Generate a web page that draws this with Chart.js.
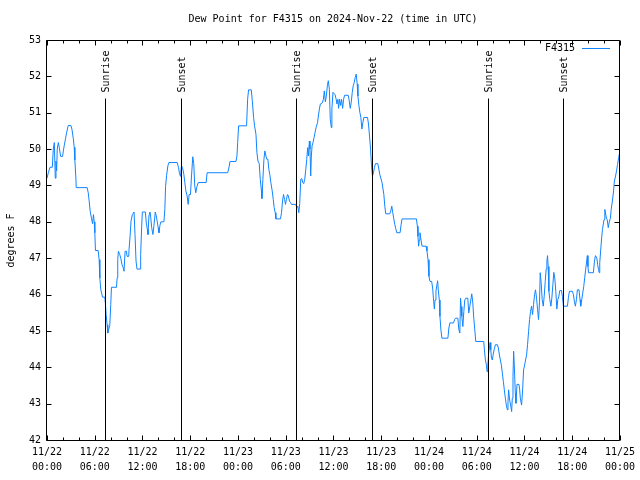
<!DOCTYPE html>
<html>
<head>
<meta charset="utf-8">
<script src="https://cdn.jsdelivr.net/npm/chart.js@4/dist/chart.umd.min.js"></script>
<style>
  html, body { margin: 0; padding: 0; background: #fff; }
  canvas { display: block; }
</style>
</head>
<body>
<canvas id="dewChart" width="640" height="480"></canvas>
<script>
// hours since 2024-11-22 00:00 UTC
const hours = [
  0, 0.17, 0.38, 0.67, 0.79, 0.92, 1.04, 1.13, 1.21, 1.29, 1.42, 1.54, 1.71, 1.96, 2.05, 2.17, 2.34, 2.46, 2.67, 3.0,
  3.13, 3.3, 3.42, 3.5, 3.63, 3.67, 5.05, 5.18, 5.3, 5.42, 5.59, 5.72, 5.84, 5.93, 6.01, 6.09, 6.43, 6.55, 6.64, 6.76,
  6.89, 6.97, 7.26, 7.34, 7.43, 7.55, 7.64, 7.76, 7.89, 8.01, 8.1, 8.73, 8.81, 8.89, 8.97, 9.14, 9.27, 9.43, 9.56, 9.68,
  9.81, 9.98, 10.06, 10.27, 10.31, 10.44, 10.56, 10.73, 10.94, 11.06, 11.19, 11.31, 11.69, 11.77, 11.9, 11.98, 12.36, 12.48, 12.61, 12.69,
  12.81, 12.94, 13.02, 13.15, 13.31, 13.44, 13.61, 13.73, 13.86, 13.98, 14.07, 14.19, 14.31, 14.69, 14.81, 14.9, 15.03, 15.19, 15.32, 16.36,
  16.53, 16.65, 16.78, 16.9, 17.07, 17.2, 17.32, 17.45, 17.61, 17.74, 17.86, 18.03, 18.16, 18.32, 18.44, 18.57, 18.7, 18.82, 19.0, 20.0,
  20.12, 22.7, 22.83, 23.0, 23.75, 23.87, 23.96, 24.08, 25.08, 25.21, 25.33, 25.67, 25.8, 25.96, 26.08, 26.26, 26.38, 26.51, 26.67, 26.8,
  26.93, 27.01, 27.13, 27.26, 27.38, 27.51, 27.63, 27.76, 27.88, 28.0, 28.13, 28.3, 28.43, 28.55, 28.68, 28.76, 29.34, 29.47, 29.6, 29.72,
  29.85, 29.97, 30.09, 30.22, 30.34, 30.47, 30.6, 30.72, 31.26, 31.39, 31.52, 31.64, 31.76, 31.89, 32.01, 32.14, 32.26, 32.39, 32.52, 32.64,
  32.76, 32.85, 32.97, 33.05, 33.14, 33.22, 33.31, 33.43, 33.56, 33.68, 33.81, 34.0, 34.1, 34.23, 34.35, 34.6, 34.73, 34.85, 34.98, 35.1,
  35.23, 35.35, 35.48, 35.6, 35.73, 35.8, 35.94, 36.19, 36.31, 36.44, 36.56, 36.64, 36.77, 36.9, 37.02, 37.15, 37.27, 37.4, 37.86, 37.98,
  38.11, 38.23, 38.36, 38.48, 38.61, 38.73, 38.86, 38.98, 39.07, 39.2, 39.32, 39.44, 39.57, 39.69, 39.82, 40.28, 40.4, 40.53, 40.66, 40.78,
  40.9, 41.03, 41.15, 41.28, 41.57, 41.7, 41.82, 42.1, 42.33, 42.45, 42.57, 43.07, 43.2, 43.33, 43.45, 43.57, 43.7, 43.82, 43.95, 44.37,
  44.5, 44.62, 46.42, 46.54, 46.62, 46.7, 46.78, 46.87, 47.0, 47.13, 47.63, 47.75, 47.88, 48.0, 48.13, 48.34, 48.46, 48.59, 48.68, 48.76,
  48.88, 49.0, 49.09, 49.17, 49.3, 49.38, 49.5, 49.63, 50.38, 50.5, 50.63, 51.09, 51.22, 51.34, 51.63, 51.76, 51.88, 51.97, 52.05, 52.13,
  52.26, 52.38, 52.5, 52.63, 52.88, 53.0, 53.13, 53.26, 53.38, 53.51, 53.63, 53.76, 53.88, 54.88, 54.97, 55.09, 55.22, 55.3, 55.39, 55.5,
  55.68, 55.77, 55.85, 55.97, 56.06, 56.18, 56.35, 56.6, 56.72, 56.85, 56.97, 57.1, 57.22, 57.35, 57.47, 57.6, 57.72, 57.85, 57.93, 58.01,
  58.14, 58.26, 58.39, 58.47, 58.56, 58.64, 58.72, 58.85, 58.93, 59.06, 59.31, 59.4, 59.48, 59.64, 59.77, 59.89, 60.02, 60.14, 60.27, 60.39,
  60.52, 60.64, 60.77, 60.89, 61.02, 61.14, 61.27, 61.39, 61.52, 61.65, 61.77, 61.9, 61.98, 62.1, 62.23, 62.36, 62.48, 62.61, 62.73, 62.82,
  62.9, 62.98, 63.07, 63.19, 63.32, 63.44, 63.57, 63.69, 63.82, 63.94, 64.07, 64.19, 64.32, 64.44, 64.65, 64.77, 64.9, 65.4, 65.52, 65.65,
  66.02, 66.15, 66.27, 66.4, 66.53, 66.65, 66.86, 66.98, 67.07, 67.2, 67.32, 67.45, 67.57, 67.7, 67.82, 67.9, 67.98, 68.05, 68.66, 68.8,
  68.92, 69.1, 69.2, 69.3, 69.4, 69.46, 69.6, 69.7, 69.8, 70.0, 70.1, 70.3, 70.4, 70.53, 70.66, 70.8, 70.9, 71.05, 71.2, 71.3,
  71.45, 71.57, 71.7, 71.84, 71.92
];

// dew point, degrees F
const dewPoint = [
  49.2, 49.35, 49.5, 49.5, 50.0, 50.18, 49.2, 49.67, 49.4, 50.0, 50.18, 50.05, 49.8, 49.8, 49.95, 50.1, 50.3, 50.45, 50.65, 50.65,
  50.55, 50.3, 50.05, 49.7, 49.2, 48.94, 48.94, 48.8, 48.57, 48.3, 48.1, 47.95, 48.2, 48.0, 47.7, 47.21, 47.21, 46.96, 46.46, 46.13,
  46.02, 45.93, 45.93, 45.75, 45.45, 45.17, 44.94, 45.05, 45.15, 45.72, 46.2, 46.2, 46.46, 46.96, 47.19, 47.1, 47.0, 46.82, 46.75, 46.64,
  47.19, 47.19, 47.05, 47.05, 47.24, 47.6, 48.02, 48.2, 48.27, 47.65, 46.92, 46.7, 46.7, 47.1, 47.88, 48.27, 48.27, 47.97, 47.79, 47.65,
  48.16, 48.27, 48.16, 47.85, 47.65, 47.9, 48.27, 48.16, 48.0, 47.83, 47.7, 47.9, 48.0, 48.0, 48.34, 48.97, 49.28, 49.54, 49.63, 49.63,
  49.49, 49.33, 49.25, 49.55, 49.45, 49.3, 49.08, 48.85, 48.71, 48.48, 48.75, 48.75, 49.26, 49.79, 49.6, 48.98, 48.8, 48.95, 49.08, 49.08,
  49.35, 49.35, 49.45, 49.66, 49.66, 49.81, 50.18, 50.64, 50.64, 51.37, 51.63, 51.63, 51.33, 50.87, 50.64, 50.41, 49.9, 49.67, 49.6, 49.17,
  48.89, 48.64, 49.17, 49.72, 49.95, 49.81, 49.72, 49.72, 49.44, 49.3, 49.08, 48.85, 48.62, 48.39, 48.25, 48.08, 48.08, 48.25, 48.57, 48.75,
  48.62, 48.48, 48.62, 48.75, 48.71, 48.57, 48.53, 48.48, 48.48, 48.39, 48.43, 48.25, 48.5, 49.17, 49.19, 49.08, 49.05, 49.17, 49.44, 49.72,
  50.04, 49.81, 50.22, 50.0, 49.26, 49.81, 50.09, 50.18, 50.32, 50.45, 50.59, 50.73, 50.91, 51.1, 51.24, 51.27, 51.37, 51.6, 51.3, 51.46,
  51.74, 51.88, 51.65, 50.82, 50.59, 51.1, 51.56, 51.5, 51.4, 51.24, 51.37, 51.12, 51.37, 51.2, 51.37, 51.12, 51.37, 51.48, 51.48, 51.33,
  51.12, 51.28, 51.56, 51.74, 51.83, 51.97, 52.06, 51.79, 51.46, 51.19, 51.0, 50.87, 50.55, 50.73, 50.87, 50.87, 50.69, 50.36, 50.0, 49.54,
  49.26, 49.35, 49.5, 49.6, 49.6, 49.45, 49.3, 49.08, 48.75, 48.43, 48.22, 48.22, 48.3, 48.43, 48.25, 48.1, 47.93, 47.82, 47.7, 47.7,
  47.93, 48.08, 48.08, 47.88, 47.6, 47.33, 47.5, 47.7, 47.5, 47.33, 47.33, 47.2, 46.96, 46.5, 46.36, 46.36, 46.18, 45.81, 45.6, 45.85,
  46.09, 46.27, 46.38, 46.13, 45.85, 45.4, 45.03, 44.8, 44.8, 45.08, 45.22, 45.22, 45.31, 45.35, 45.35, 45.03, 44.94, 45.9, 45.67, 45.4,
  45.12, 45.53, 45.85, 45.9, 45.9, 45.49, 45.67, 45.85, 46.02, 45.77, 45.35, 45.03, 44.71, 44.71, 44.48, 44.2, 44.06, 43.88, 44.02, 44.39,
  44.68, 44.48, 44.25, 44.2, 44.34, 44.48, 44.62, 44.62, 44.53, 44.34, 44.2, 44.06, 43.84, 43.61, 43.38, 43.15, 42.96, 42.83, 43.06, 43.38,
  43.1, 42.96, 42.78, 43.15, 43.75, 44.44, 44.07, 43.29, 43.01, 43.53, 43.53, 43.38, 43.15, 42.96, 43.38, 43.93, 44.06, 44.2, 44.34, 44.62,
  44.99, 45.31, 45.54, 45.68, 45.45, 45.72, 46.0, 46.13, 45.9, 45.58, 45.31, 45.82, 46.6, 46.32, 45.86, 45.68, 45.95, 46.36, 46.7, 46.92,
  47.07, 46.77, 46.09, 45.86, 45.68, 45.9, 46.27, 46.61, 46.43, 46.09, 45.6, 45.86, 45.95, 46.11, 46.11, 45.95, 45.68, 45.68, 45.91, 46.09,
  46.09, 46.0, 45.82, 45.68, 45.86, 46.13, 46.13, 45.86, 45.68, 45.86, 46.04, 46.22, 46.46, 46.7, 46.92, 47.07, 46.77, 46.6, 46.6, 46.92,
  47.07, 47.0, 46.82, 46.69, 46.6, 46.87, 47.28, 47.56, 47.79, 48.06, 48.34, 48.1, 48.06, 47.84, 48.0, 48.1, 48.34, 48.57, 48.85, 49.12,
  49.26, 49.4, 49.58, 49.77, 49.86
];

const tickDates = ['11/22', '11/22', '11/22', '11/22', '11/23', '11/23', '11/23', '11/23', '11/24', '11/24', '11/24', '11/24', '11/25'];
const tickTimes = ['00:00', '06:00', '12:00', '18:00', '00:00', '06:00', '12:00', '18:00', '00:00', '06:00', '12:00', '18:00', '00:00'];

const sunHours = [7.3, 16.87, 31.34, 40.86, 55.38, 64.9];
const sunNames = ['Sunrise', 'Sunset', 'Sunrise', 'Sunset', 'Sunrise', 'Sunset'];

const stationName = 'F4315';
const titleText = 'Dew Point for F4315 on 2024-Nov-22 (time in UTC)';
const yTitle = 'degrees F';

const lineColor = 'rgb(16, 132, 255)';
const fontFamily = '"DejaVu Sans Mono", "Liberation Mono", monospace';

Chart.defaults.font.family = fontFamily;
Chart.defaults.font.size = 10;
Chart.defaults.color = '#000';

// gnuplot-ish frame, inward ticks, sunrise/sunset markers and labels
const decorations = {
  id: 'decorations',
  afterDraw(chart) {
    const { ctx, chartArea: a, scales: { x, y } } = chart;
    const L = Math.round(a.left) - 0.5;
    const R = Math.round(a.right) - 0.5;
    const T = Math.round(a.top) + 0.5;
    const B = Math.round(a.bottom) + 0.5;

    ctx.save();
    ctx.strokeStyle = '#000';
    ctx.lineWidth = 1;
    ctx.beginPath();
    ctx.rect(L, T, R - L, B - T);

    for (let h = x.min; h <= x.max; h += 2) {
      const px = Math.round(x.getPixelForValue(h)) + 0.5;
      const len = h % 6 === 0 ? 5 : 3;
      ctx.moveTo(px, B); ctx.lineTo(px, B - len);
      ctx.moveTo(px, T); ctx.lineTo(px, T + len);
    }
    for (let v = y.min; v <= y.max; v += 1) {
      const py = Math.round(y.getPixelForValue(v)) + 0.5;
      ctx.moveTo(L, py); ctx.lineTo(L + 5, py);
      ctx.moveTo(R, py); ctx.lineTo(R - 5, py);
    }

    sunHours.forEach(h => {
      const px = Math.round(x.getPixelForValue(h)) + 0.5;
      ctx.moveTo(px, T + 58);
      ctx.lineTo(px, B);
    });
    ctx.stroke();

    ctx.fillStyle = '#000';
    ctx.font = '10px ' + fontFamily;
    ctx.textBaseline = 'middle';
    sunHours.forEach((h, i) => {
      const px = Math.round(x.getPixelForValue(h));
      ctx.save();
      ctx.translate(px + 1, T + 52);
      ctx.rotate(-Math.PI / 2);
      ctx.textAlign = 'left';
      ctx.fillText(sunNames[i], 0, 0);
      ctx.restore();
    });

    // title
    ctx.textAlign = 'center';
    ctx.fillText(titleText, (L + R) / 2, 19);

    // y axis title
    ctx.save();
    ctx.translate(11, (T + B) / 2);
    ctx.rotate(-Math.PI / 2);
    ctx.fillText(yTitle, 0, 0);
    ctx.restore();

    // legend
    ctx.textAlign = 'right';
    ctx.fillText(stationName, 575, 48);
    ctx.strokeStyle = lineColor;
    ctx.beginPath();
    ctx.moveTo(582, 48.5);
    ctx.lineTo(610, 48.5);
    ctx.stroke();

    ctx.restore();
  }
};

new Chart(document.getElementById('dewChart'), {
  type: 'line',
  data: {
    datasets: [{
      label: stationName,
      data: hours.map((h, i) => ({ x: h, y: dewPoint[i] })),
      borderColor: lineColor,
      borderWidth: 1,
      pointRadius: 0,
      tension: 0,
      fill: false
    }]
  },
  options: {
    responsive: false,
    animation: false,
    devicePixelRatio: 1,
    layout: { padding: { top: 40, right: 18, left: 0, bottom: 0 } },
    scales: {
      x: {
        type: 'linear',
        min: 0,
        max: 72,
        grid: { display: false, drawTicks: false },
        border: { display: false },
        ticks: {
          stepSize: 6,
          autoSkip: false,
          maxRotation: 0,
          padding: 5,
          font: { size: 10, lineHeight: '15px' },
          callback: v => [tickDates[v / 6], tickTimes[v / 6]]
        },
        afterFit: s => { s.height = 40; }
      },
      y: {
        min: 42,
        max: 53,
        grid: { display: false, drawTicks: false },
        border: { display: false },
        ticks: { stepSize: 1, padding: 6, font: { size: 10 } },
        afterFit: s => { s.width = 47; }
      }
    },
    plugins: {
      legend: { display: false },
      title: { display: false },
      tooltip: { enabled: false }
    }
  },
  plugins: [decorations]
});
</script>
</body>
</html>
